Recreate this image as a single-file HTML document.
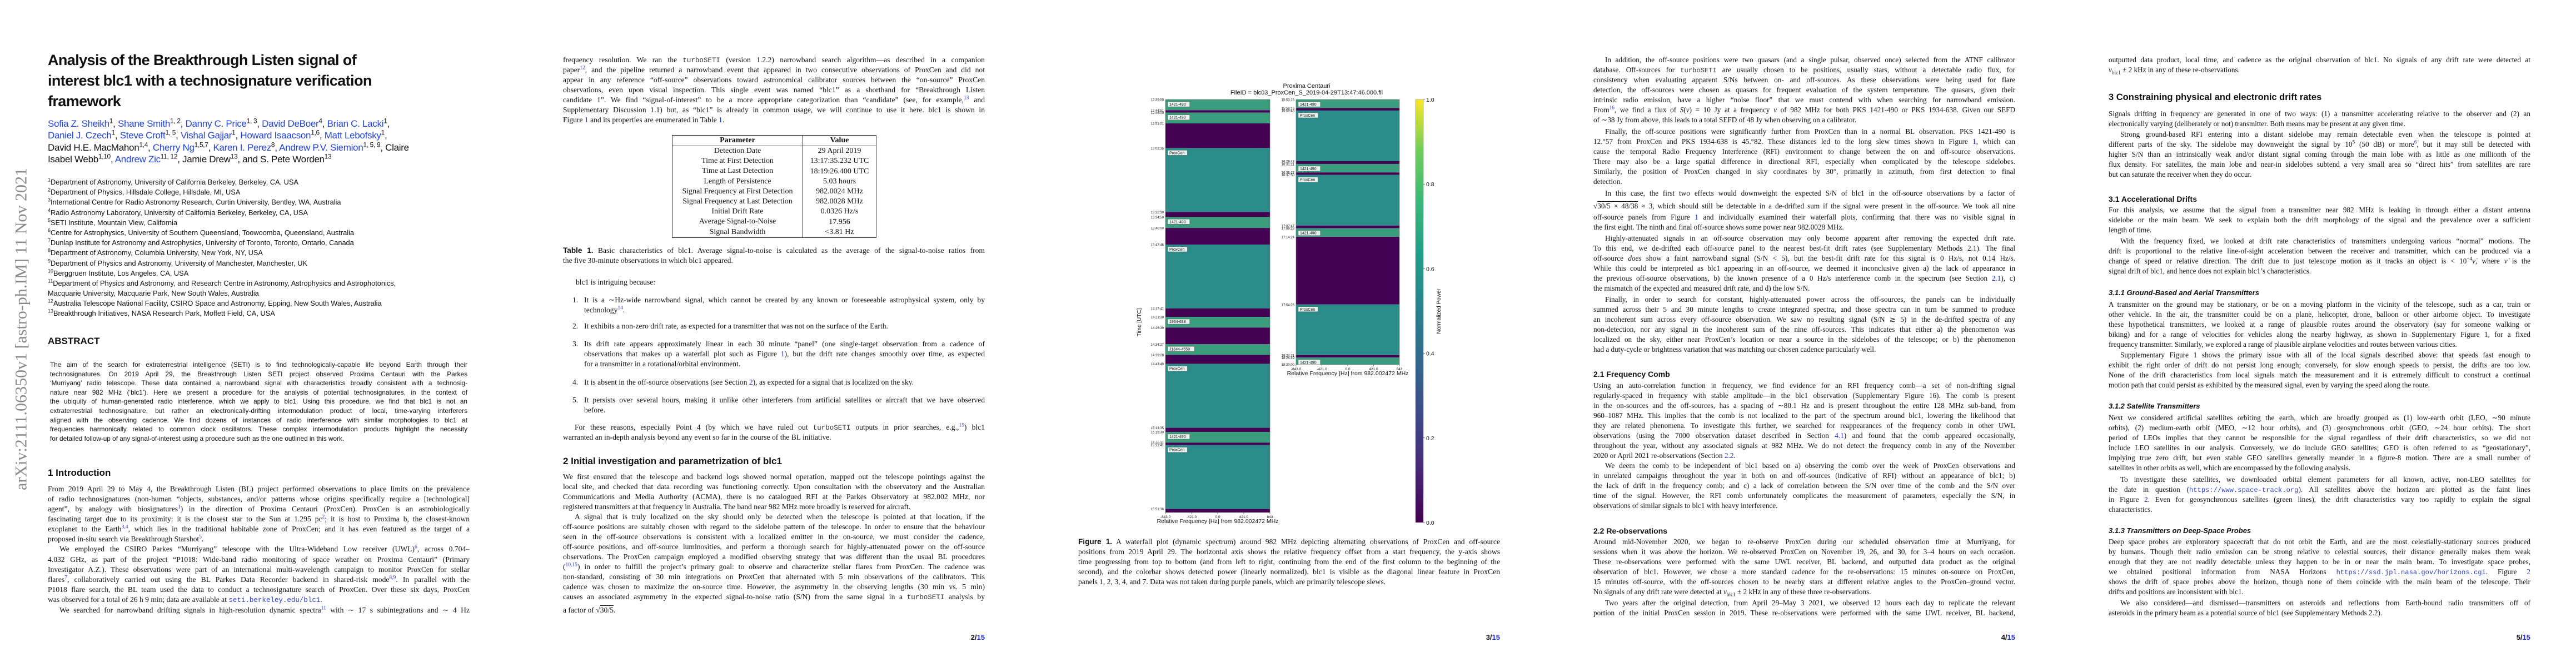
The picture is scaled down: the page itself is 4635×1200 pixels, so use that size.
<!DOCTYPE html>
<html><head><meta charset="utf-8">
<style>
html,body{margin:0;padding:0;background:#fff}
#root{position:relative;width:4635px;height:1200px;overflow:hidden;background:#fff;color:#111}
.p{position:absolute;width:759px}
.l{height:18px;line-height:18px;overflow:hidden;text-align:justify;text-align-last:justify;white-space:normal}
.z{text-align-last:left}
.i{text-indent:21px}
.s1{font-family:"Liberation Serif",serif;font-size:13.6px}
.s4{font-family:"Liberation Serif",serif;font-size:13.2px}
.sans{font-family:"Liberation Sans",sans-serif}
sup{font-size:70%;line-height:0;vertical-align:super}
.r{color:#1f2fe0}
.m{font-family:"Liberation Mono",monospace;color:#333;font-size:92%}
.u{font-family:"Liberation Mono",monospace;color:#2a3fd0;font-size:92%}
.h{position:absolute;font-family:"Liberation Sans",sans-serif;font-weight:bold;white-space:nowrap}
.pn{position:absolute;font-family:"Liberation Sans",sans-serif;font-weight:bold;font-size:13px;text-align:right;width:60px}
.ab{position:absolute;left:90px;width:751px;font-family:"Liberation Sans",sans-serif;font-size:11.8px}
.ab .l{height:16.6px;line-height:16.6px}
.af{position:absolute;left:86px;font-family:"Liberation Sans",sans-serif;font-size:12.8px;white-space:nowrap}
.af div{height:18.2px;line-height:18.2px}
.au{position:absolute;left:86px;font-family:"Liberation Sans",sans-serif;font-size:17px;white-space:nowrap;letter-spacing:-0.3px}
.au div{height:21.3px;line-height:21.3px}
.bl{color:#2244dd}
table{border-collapse:collapse}
</style></head><body>
<div id="root">

<!-- PAGE 1 -->
<div style="position:absolute;left:-264px;top:574px;width:605px;height:36px;line-height:36px;transform:rotate(-90deg);font-family:'Liberation Serif',serif;font-size:30px;color:#8a8a8a;white-space:nowrap;text-align:center">arXiv:2111.06350v1  [astro-ph.IM]  11 Nov 2021</div>

<div class="h" style="left:86px;top:90px;font-size:27px;line-height:37px;letter-spacing:-0.6px">Analysis of the Breakthrough Listen signal of<br>interest blc1 with a technosignature verification<br>framework</div>

<div class="au" style="top:212px">
<div><span class="bl">Sofia Z. Sheikh</span><sup>1</sup>, <span class="bl">Shane Smith</span><sup>1, 2</sup>, <span class="bl">Danny C. Price</span><sup>1, 3</sup>, <span class="bl">David DeBoer</span><sup>4</sup>, <span class="bl">Brian C. Lacki</span><sup>1</sup>,</div>
<div><span class="bl">Daniel J. Czech</span><sup>1</sup>, <span class="bl">Steve Croft</span><sup>1, 5</sup>, <span class="bl">Vishal Gajjar</span><sup>1</sup>, <span class="bl">Howard Isaacson</span><sup>1,6</sup>, <span class="bl">Matt Lebofsky</span><sup>1</sup>,</div>
<div>David H.E. MacMahon<sup>1,4</sup>, <span class="bl">Cherry Ng</span><sup>1,5,7</sup>, <span class="bl">Karen I. Perez</span><sup>8</sup>, <span class="bl">Andrew P.V. Siemion</span><sup>1, 5, 9</sup>, Claire</div>
<div>Isabel Webb<sup>1,10</sup>, <span class="bl">Andrew Zic</span><sup>11, 12</sup>, Jamie Drew<sup>13</sup>, and S. Pete Worden<sup>13</sup></div>
</div>

<div class="af" style="top:319px">
<div><sup>1</sup>Department of Astronomy, University of California Berkeley, Berkeley, CA, USA</div>
<div><sup>2</sup>Department of Physics, Hillsdale College, Hillsdale, MI, USA</div>
<div><sup>3</sup>International Centre for Radio Astronomy Research, Curtin University, Bentley, WA, Australia</div>
<div><sup>4</sup>Radio Astronomy Laboratory, University of California Berkeley, Berkeley, CA, USA</div>
<div><sup>5</sup>SETI Institute, Mountain View, California</div>
<div><sup>6</sup>Centre for Astrophysics, University of Southern Queensland, Toowoomba, Queensland, Australia</div>
<div><sup>7</sup>Dunlap Institute for Astronomy and Astrophysics, University of Toronto, Toronto, Ontario, Canada</div>
<div><sup>8</sup>Department of Astronomy, Columbia University, New York, NY, USA</div>
<div><sup>9</sup>Department of Physics and Astronomy, University of Manchester, Manchester, UK</div>
<div><sup>10</sup>Berggruen Institute, Los Angeles, CA, USA</div>
<div><sup>11</sup>Department of Physics and Astronomy, and Research Centre in Astronomy, Astrophysics and Astrophotonics,</div>
<div>Macquarie University, Macquarie Park, New South Wales, Australia</div>
<div><sup>12</sup>Australia Telescope National Facility, CSIRO Space and Astronomy, Epping, New South Wales, Australia</div>
<div><sup>13</sup>Breakthrough Initiatives, NASA Research Park, Moffett Field, CA, USA</div>
</div>

<div class="h" style="left:86px;top:603px;font-size:17px;line-height:22px">ABSTRACT</div>
<div class="ab" style="top:648px">
<div class="l">The aim of the search for extraterrestrial intelligence (SETI) is to find technologically-capable life beyond Earth through their</div>
<div class="l">technosignatures. On 2019 April 29, the Breakthrough Listen SETI project observed Proxima Centauri with the Parkes</div>
<div class="l">‘Murriyang’ radio telescope. These data contained a narrowband signal with characteristics broadly consistent with a technosig-</div>
<div class="l">nature near 982 MHz (‘blc1’). Here we present a procedure for the analysis of potential technosignatures, in the context of</div>
<div class="l">the ubiquity of human-generated radio interference, which we apply to blc1. Using this procedure, we find that blc1 is not an</div>
<div class="l">extraterrestrial technosignature, but rather an electronically-drifting intermodulation product of local, time-varying interferers</div>
<div class="l">aligned with the observing cadence. We find dozens of instances of radio interference with similar morphologies to blc1 at</div>
<div class="l">frequencies harmonically related to common clock oscillators. These complex intermodulation products highlight the necessity</div>
<div class="l z">for detailed follow-up of any signal-of-interest using a procedure such as the one outlined in this work.</div>
</div>

<div class="h" style="left:86px;top:840px;font-size:17px;line-height:22px">1  Introduction</div>
<div class="p s1" style="left:86px;top:871px;width:759px">
<div class="l">From 2019 April 29 to May 4, the Breakthrough Listen (BL) project performed observations to place limits on the prevalence</div>
<div class="l">of radio technosignatures (non-human “objects, substances, and/or patterns whose origins specifically require a [technological]</div>
<div class="l">agent”, by analogy with biosignatures<sup class="r">1</sup>) in the direction of Proxima Centauri (ProxCen). ProxCen is an astrobiologically</div>
<div class="l">fascinating target due to its proximity: it is the closest star to the Sun at 1.295 pc<sup class="r">2</sup>; it is host to Proxima b, the closest-known</div>
<div class="l">exoplanet to the Earth<sup class="r">3,4</sup>, which lies in the traditional habitable zone of ProxCen; and it has even featured as the target of a</div>
<div class="l z">proposed in-situ search via Breakthrough Starshot<sup class="r">5</sup>.</div>
<div class="l i" style="height:19px">We employed the CSIRO Parkes “Murriyang” telescope with the Ultra-Wideband Low receiver (UWL)<sup class="r">6</sup>, across 0.704–</div>
<div class="l">4.032 GHz, as part of the project “P1018: Wide-band radio monitoring of space weather on Proxima Centauri” (Primary</div>
<div class="l">Investigator A.Z.). These observations were part of an international multi-wavelength campaign to monitor ProxCen for stellar</div>
<div class="l">flares<sup class="r">7</sup>, collaboratively carried out using the BL Parkes Data Recorder backend in shared-risk mode<sup class="r">8,9</sup>. In parallel with the</div>
<div class="l">P1018 flare search, the BL team used the data to conduct a technosignature search of ProxCen. Over these six days, ProxCen</div>
<div class="l z">was observed for a total of 26 h 9 min; data are available at <span class="u">seti.berkeley.edu/blc1</span>.</div>
<div class="l i" style="height:20px;line-height:20px">We searched for narrowband drifting signals in high-resolution dynamic spectra<sup class="r">11</sup> with ∼ 17 s subintegrations and ∼ 4 Hz</div>
</div>

<!-- PAGE 2 -->
<div class="p s1" style="left:1013px;top:99px">
<div class="l">frequency resolution. We ran the <span class="m">turboSETI</span> (version 1.2.2) narrowband search algorithm—as described in a companion</div>
<div class="l">paper<sup class="r">12</sup>, and the pipeline returned a narrowband event that appeared in two consecutive observations of ProxCen and did not</div>
<div class="l">appear in any reference “off-source” observations toward astronomical calibrator sources between the “on-source” ProxCen</div>
<div class="l">observations, even upon visual inspection. This single event was named “blc1” as a shorthand for “Breakthrough Listen</div>
<div class="l">candidate 1”. We find “signal-of-interest” to be a more appropriate categorization than “candidate” (see, for example,<sup class="r">13</sup> and</div>
<div class="l">Supplementary Discussion 1.1) but, as “blc1” is already in common usage, we will continue to use it here. blc1 is shown in</div>
<div class="l z">Figure <span class="r">1</span> and its properties are enumerated in Table <span class="r">1</span>.</div>
</div>

<table style="position:absolute;left:1209px;top:243px;width:368px;border:1.5px solid #333;font-family:'Liberation Serif',serif;font-size:14px">
<tr style="height:19px;border-bottom:1.5px solid #333"><th style="width:234px;border-right:1.5px solid #333;padding:0;line-height:18px">Parameter</th><th style="padding:0;line-height:18px">Value</th></tr>
<tr><td style="text-align:center;border-right:1.5px solid #333;padding:0;line-height:18.2px">Detection Date</td><td style="text-align:center;padding:0">29 April 2019</td></tr>
<tr><td style="text-align:center;border-right:1.5px solid #333;padding:0;line-height:18.2px">Time at First Detection</td><td style="text-align:center;padding:0">13:17:35.232 UTC</td></tr>
<tr><td style="text-align:center;border-right:1.5px solid #333;padding:0;line-height:18.2px">Time at Last Detection</td><td style="text-align:center;padding:0">18:19:26.400 UTC</td></tr>
<tr><td style="text-align:center;border-right:1.5px solid #333;padding:0;line-height:18.2px">Length of Persistence</td><td style="text-align:center;padding:0">5.03 hours</td></tr>
<tr><td style="text-align:center;border-right:1.5px solid #333;padding:0;line-height:18.2px">Signal Frequency at First Detection</td><td style="text-align:center;padding:0">982.0024 MHz</td></tr>
<tr><td style="text-align:center;border-right:1.5px solid #333;padding:0;line-height:18.2px">Signal Frequency at Last Detection</td><td style="text-align:center;padding:0">982.0028 MHz</td></tr>
<tr><td style="text-align:center;border-right:1.5px solid #333;padding:0;line-height:18.2px">Initial Drift Rate</td><td style="text-align:center;padding:0">0.0326 Hz/s</td></tr>
<tr><td style="text-align:center;border-right:1.5px solid #333;padding:0;line-height:18.2px">Average Signal-to-Noise</td><td style="text-align:center;padding:0">17.956</td></tr>
<tr><td style="text-align:center;border-right:1.5px solid #333;padding:0;line-height:18.2px">Signal Bandwidth</td><td style="text-align:center;padding:0">&lt;3.81 Hz</td></tr>
</table>

<div class="p s1" style="left:1013px;top:442px">
<div class="l"><b class="sans">Table 1.</b> Basic characteristics of blc1. Average signal-to-noise is calculated as the average of the signal-to-noise ratios from</div>
<div class="l z">the five 30-minute observations in which blc1 appeared.</div>
</div>
<div class="p s1" style="left:1036px;top:499px"><div class="l z">blc1 is intriguing because:</div></div>

<div class="p s1" style="left:1030px;top:0;width:20px">
<div class="l z" style="position:absolute;top:531px">1.</div>
<div class="l z" style="position:absolute;top:578px">2.</div>
<div class="l z" style="position:absolute;top:610px">3.</div>
<div class="l z" style="position:absolute;top:679px">4.</div>
<div class="l z" style="position:absolute;top:711px">5.</div>
</div>
<div class="p s1" style="left:1051px;top:531px;width:721px">
<div class="l">It is a ∼Hz-wide narrowband signal, which cannot be created by any known or foreseeable astrophysical system, only by</div>
<div class="l z">technology<sup class="r">14</sup>.</div></div>
<div class="p s1" style="left:1051px;top:578px;width:721px">
<div class="l z">It exhibits a non-zero drift rate, as expected for a transmitter that was not on the surface of the Earth.</div></div>
<div class="p s1" style="left:1051px;top:610px;width:721px">
<div class="l">Its drift rate appears approximately linear in each 30 minute “panel” (one single-target observation from a cadence of</div>
<div class="l">observations that makes up a waterfall plot such as Figure <span class="r">1</span>), but the drift rate changes smoothly over time, as expected</div>
<div class="l z">for a transmitter in a rotational/orbital environment.</div></div>
<div class="p s1" style="left:1051px;top:679px;width:721px">
<div class="l z">It is absent in the off-source observations (see Section <span class="r">2</span>), as expected for a signal that is localized on the sky.</div></div>
<div class="p s1" style="left:1051px;top:711px;width:721px">
<div class="l">It persists over several hours, making it unlike other interferers from artificial satellites or aircraft that we have observed</div>
<div class="l z">before.</div></div>
<div class="p s1" style="left:1013px;top:760px">
<div class="l i">For these reasons, especially Point 4 (by which we have ruled out <span class="m">turboSETI</span> outputs in prior searches, e.g.,<sup class="r">15</sup>) blc1</div>
<div class="l z">warranted an in-depth analysis beyond any event so far in the course of the BL initiative.</div></div>

<div class="h" style="left:1013px;top:819px;font-size:17px;line-height:22px">2  Initial investigation and parametrization of blc1</div>
<div class="p s1" style="left:1013px;top:849px">
<div class="l">We first ensured that the telescope and backend logs showed normal operation, mapped out the telescope pointings against the</div>
<div class="l">local site, and checked that data recording was functioning correctly. Upon consultation with the observatory and the Australian</div>
<div class="l">Communications and Media Authority (ACMA), there is no catalogued RFI at the Parkes Observatory at 982.002 MHz, nor</div>
<div class="l z">registered transmitters at that frequency in Australia. The band near 982 MHz more broadly is reserved for aircraft.</div>
<div class="l i">A signal that is truly localized on the sky should only be detected when the telescope is pointed at that location, if the</div>
<div class="l">off-source positions are suitably chosen with regard to the sidelobe pattern of the telescope. In order to ensure that the behaviour</div>
<div class="l">seen in the off-source observations is consistent with a localized emitter in the on-source, we must consider the cadence,</div>
<div class="l">off-source positions, and off-source luminosities, and perform a thorough search for highly-attenuated power on the off-source</div>
<div class="l">observations. The ProxCen campaign employed a modified observing strategy that was different than the usual BL procedures</div>
<div class="l">(<sup class="r">10,15</sup>) in order to fulfill the project’s primary goal: to observe and characterize stellar flares from ProxCen. The cadence was</div>
<div class="l">non-standard, consisting of 30 min integrations on ProxCen that alternated with 5 min observations of the calibrators. This</div>
<div class="l">cadence was chosen to maximize the on-source time. However, the asymmetry in the observing lengths (30 min vs. 5 min)</div>
<div class="l">causes an associated asymmetry in the expected signal-to-noise ratio (S/N) from the same signal in a <span class="m">turboSETI</span> analysis by</div>
<div class="l z" style="height:26px;line-height:30px">a factor of √<span style="text-decoration:overline">30/5</span>.</div>
</div>
<div class="pn" style="left:1712px;top:1139px">2/<span class="r">15</span></div>

<!-- PAGE 3 FIGURE -->
<svg id="fig" style="position:absolute;left:1854px;top:0" width="927" height="1200" viewBox="1854 0 927 1200">
<defs><linearGradient id="vir" x1="0" y1="1" x2="0" y2="0">
<stop offset="0" stop-color="#440154"/><stop offset="0.13" stop-color="#482878"/><stop offset="0.25" stop-color="#3e4989"/><stop offset="0.38" stop-color="#31688e"/><stop offset="0.5" stop-color="#26828e"/><stop offset="0.63" stop-color="#1f9e89"/><stop offset="0.75" stop-color="#35b779"/><stop offset="0.88" stop-color="#6ece58"/><stop offset="1" stop-color="#fde725"/></linearGradient></defs>
</svg>
<div class="p s1" style="left:1940px;top:966px">
<div class="l"><b class="sans">Figure 1.</b> A waterfall plot (dynamic spectrum) around 982 MHz depicting alternating observations of ProxCen and off-source</div>
<div class="l">positions from 2019 April 29. The horizontal axis shows the relative frequency offset from a start frequency, the y-axis shows</div>
<div class="l">time progressing from top to bottom (and from left to right, continuing from the end of the first column to the beginning of the</div>
<div class="l">second), and the colorbar shows detected power (linearly normalized). blc1 is visible as the diagonal linear feature in ProxCen</div>
<div class="l z">panels 1, 2, 3, 4, and 7. Data was not taken during purple panels, which are primarily telescope slews.</div>
</div>
<div class="pn" style="left:2639px;top:1139px">3/<span class="r">15</span></div>

<!-- PAGE 4 -->
<div class="p s4" style="left:2867px;top:99px">
<div class="l i">In addition, the off-source positions were two quasars (and a single pulsar, observed once) selected from the ATNF calibrator</div>
<div class="l">database. Off-sources for <span class="m">turboSETI</span> are usually chosen to be positions, usually stars, without a detectable radio flux, for</div>
<div class="l">consistency when evaluating apparent S/Ns between on- and off-sources. As these observations were being used for flare</div>
<div class="l">detection, the off-sources were chosen as quasars for frequent evaluation of the system temperature. The quasars, given their</div>
<div class="l">intrinsic radio emission, have a higher “noise floor” that we must contend with when searching for narrowband emission.</div>
<div class="l">From<sup class="r">16</sup>, we find a flux of <i>S</i>(<i>ν</i>) = 10 Jy at a frequency <i>ν</i> of 982 MHz for both PKS 1421-490 or PKS 1934-638. Given our SEFD</div>
<div class="l z">of ∼38 Jy from above, this leads to a total SEFD of 48 Jy when observing on a calibrator.</div>
<div class="l i" style="margin-top:3px">Finally, the off-source positions were significantly further from ProxCen than in a normal BL observation. PKS 1421-490 is</div>
<div class="l">12.°57 from ProxCen and PKS 1934-638 is 45.°82. These distances led to the long slew times shown in Figure <span class="r">1</span>, which can</div>
<div class="l">cause the temporal Radio Frequency Interference (RFI) environment to change between the on and off-source observations.</div>
<div class="l">There may also be a large spatial difference in directional RFI, especially when complicated by the telescope sidelobes.</div>
<div class="l">Similarly, the position of ProxCen changed in sky coordinates by  30°, primarily in azimuth, from first detection to final</div>
<div class="l z">detection.</div>
<div class="l i" style="margin-top:3px">In this case, the first two effects would downweight the expected S/N of blc1 in the off-source observations by a factor of</div>
<div class="l" style="height:25px;line-height:27px">√<span style="text-decoration:overline">30/5 × 48/38</span> ≈ 3, which should still be detectable in a de-drifted sum if the signal were present in the off-source. We took all nine</div>
<div class="l">off-source panels from Figure <span class="r">1</span> and individually examined their waterfall plots, confirming that there was no visible signal in</div>
<div class="l z">the first eight. The ninth and final off-source shows some power near 982.0028 MHz.</div>
<div class="l i" style="margin-top:2px">Highly-attenuated signals in an off-source observation may only become apparent after removing the expected drift rate.</div>
<div class="l">To this end, we de-drifted each off-source panel to the nearest best-fit drift rates (see Supplementary Methods 2.1). The final</div>
<div class="l">off-source <i>does</i> show a faint narrowband signal (S/N &lt; 5), but the best-fit drift rate for this signal is 0 Hz/s, not 0.14 Hz/s.</div>
<div class="l">While this could be interpreted as blc1 appearing in an off-source, we deemed it inconclusive given a) the lack of appearance in</div>
<div class="l">the previous off-source observations, b) the known presence of a 0 Hz/s interference comb in the spectrum (see Section <span class="r">2.1</span>), c)</div>
<div class="l z">the mismatch of the expected and measured drift rate, and d) the low S/N.</div>
<div class="l i" style="margin-top:2px">Finally, in order to search for constant, highly-attenuated power across the off-sources, the panels can be individually</div>
<div class="l">summed across their 5 and 30 minute lengths to create integrated spectra, and those spectra can in turn be summed to produce</div>
<div class="l">an incoherent sum across every off-source observation. We saw no resulting signal (S/N ≳ 5) in the de-drifted spectra of any</div>
<div class="l">non-detection, nor any signal in the incoherent sum of the nine off-sources. This indicates that either a) the phenomenon was</div>
<div class="l">localized on the sky, either near ProxCen’s location or near a source in the sidelobes of the telescope; or b) the phenomenon</div>
<div class="l z">had a duty-cycle or brightness variation that was matching our chosen cadence particularly well.</div>
</div>
<div class="h" style="left:2867px;top:664px;font-size:14px;line-height:18px">2.1  Frequency Comb</div>
<div class="p s4" style="left:2867px;top:685px">
<div class="l">Using an auto-correlation function in frequency, we find evidence for an RFI frequency comb—a set of non-drifting signal</div>
<div class="l">regularly-spaced in frequency with stable amplitude—in the blc1 observation (Supplementary Figure 16). The comb is present</div>
<div class="l">in the on-sources and the off-sources, has a spacing of ∼80.1 Hz and is present throughout the entire 128 MHz sub-band, from</div>
<div class="l">960–1087 MHz. This implies that the comb is not localized to the part of the spectrum around blc1, lowering the likelihood that</div>
<div class="l">they are related phenomena. To investigate this further, we searched for reappearances of the frequency comb in other UWL</div>
<div class="l">observations (using the 7000 observation dataset described in Section <span class="r">4.1</span>) and found that the comb appeared occasionally,</div>
<div class="l">throughout the year, without any associated signals at 982 MHz. We do not detect the frequency comb in any of the November</div>
<div class="l z">2020 or April 2021 re-observations (Section <span class="r">2.2</span>.</div>
<div class="l i">We deem the comb to be independent of blc1 based on a) observing the comb over the week of ProxCen observations and</div>
<div class="l">in unrelated campaigns throughout the year in both on and off-sources (indicative of RFI) without an appearance of blc1; b)</div>
<div class="l">the lack of drift in the frequency comb; and c) a lack of correlation between the S/N over time of the comb and the S/N over</div>
<div class="l">time of the signal. However, the RFI comb unfortunately complicates the measurement of parameters, especially the S/N, in</div>
<div class="l z">observations of similar signals to blc1 with heavy interference.</div>
</div>
<div class="h" style="left:2867px;top:946px;font-size:14px;line-height:18px">2.2  Re-observations</div>
<div class="p s4" style="left:2867px;top:966px">
<div class="l">Around mid-November 2020, we began to re-observe ProxCen during our scheduled observation time at Murriyang, for</div>
<div class="l">sessions when it was above the horizon. We re-observed ProxCen on November 19, 26, and 30, for 3–4 hours on each occasion.</div>
<div class="l">These re-observations were performed with the same UWL receiver, BL backend, and outputted data product as the original</div>
<div class="l">observation of blc1. However, we chose a more standard cadence for the re-observations: 15 minutes on-source on ProxCen,</div>
<div class="l">15 minutes off-source, with the off-sources chosen to be nearby stars at different relative angles to the ProxCen–ground vector.</div>
<div class="l z">No signals of any drift rate were detected at <i>ν</i><sub style="font-size:70%">blc1</sub> ± 2 kHz in any of these three re-observations.</div>
<div class="l i" style="margin-top:2px">Two years after the original detection, from April 29–May 3 2021, we observed 12 hours each day to replicate the relevant</div>
<div class="l">portion of the initial ProxCen session in 2019. These re-observations were performed with the same UWL receiver, BL backend,</div>
</div>
<div class="pn" style="left:3566px;top:1139px">4/<span class="r">15</span></div>

<!-- PAGE 5 -->
<div class="p s4" style="left:3794px;top:99px">
<div class="l">outputted data product, local time, and cadence as the original observation of blc1. No signals of any drift rate were detected at</div>
<div class="l z"><i>ν</i><sub style="font-size:70%">blc1</sub> ± 2 kHz in any of these re-observations.</div>
</div>
<div class="h" style="left:3794px;top:164px;font-size:16.5px;line-height:22px">3  Constraining physical and electronic drift rates</div>
<div class="p s4" style="left:3794px;top:196px">
<div class="l">Signals drifting in frequency are generated in one of two ways: (1) a transmitter accelerating relative to the observer and (2) an</div>
<div class="l z">electronically varying (deliberately or not) transmitter. Both means may be present at any given time.</div>
<div class="l i" style="margin-top:1px">Strong ground-based RFI entering into a distant sidelobe may remain detectable even when the telescope is pointed at</div>
<div class="l">different parts of the sky. The sidelobe may downweight the signal by 10<sup>5</sup> (50 dB) or more<sup class="r">6</sup>, but it may still be detected with</div>
<div class="l">higher S/N than an intrinsically weak and/or distant signal coming through the main lobe with as little as one millionth of the</div>
<div class="l">flux density. For satellites, the main lobe and near-in sidelobes subtend a very small area so “direct hits” from satellites are rare</div>
<div class="l z">but can saturate the receiver when they do occur.</div>
</div>
<div class="h" style="left:3794px;top:349px;font-size:14px;line-height:18px">3.1  Accelerational Drifts</div>
<div class="p s4" style="left:3794px;top:369px">
<div class="l">For this analysis, we assume that the signal from a transmitter near 982 MHz is leaking in through either a distant antenna</div>
<div class="l">sidelobe or the main beam. We seek to explain both the drift morphology of the signal and the prevalence over a sufficient</div>
<div class="l z">length of time.</div>
<div class="l i" style="margin-top:2px">With the frequency fixed, we looked at drift rate characteristics of transmitters undergoing various “normal” motions. The</div>
<div class="l">drift is proportional to the relative line-of-sight acceleration between the receiver and transmitter, which can be produced via a</div>
<div class="l">change of speed or relative direction. The drift due to just telescope motion as it tracks an object is &lt; 10<sup>−4</sup><i>ν̇</i>, where <i>ν̇</i> is the</div>
<div class="l z">signal drift of blc1, and hence does not explain blc1’s characteristics.</div>
</div>
<div class="h" style="left:3794px;top:518px;font-size:13px;line-height:18px;font-style:italic">3.1.1  Ground-Based and Aerial Transmitters</div>
<div class="p s4" style="left:3794px;top:539px">
<div class="l">A transmitter on the ground may be stationary, or be on a moving platform in the vicinity of the telescope, such as a car, train or</div>
<div class="l">other vehicle. In the air, the transmitter could be on a plane, helicopter, drone, balloon or other airborne object. To investigate</div>
<div class="l">these hypothetical transmitters, we looked at a range of plausible routes around the observatory (say for someone walking or</div>
<div class="l">biking) and for a range of velocities for vehicles along the nearby highway, as shown in Supplementary Figure 1, for a fixed</div>
<div class="l z">frequency transmitter. Similarly, we explored a range of plausible airplane velocities and routes between various cities.</div>
<div class="l i" style="margin-top:1px">Supplementary Figure 1 shows the primary issue with all of the local signals described above: that speeds fast enough to</div>
<div class="l">exhibit the right order of drift do not persist long enough; conversely, for slow enough speeds to persist, the drifts are too low.</div>
<div class="l">None of the drift characteristics from local signals match the measurement and it is extremely difficult to construct a continual</div>
<div class="l z">motion path that could persist as exhibited by the measured signal, even by varying the speed along the route.</div>
</div>
<div class="h" style="left:3794px;top:722px;font-size:13px;line-height:18px;font-style:italic">3.1.2  Satellite Transmitters</div>
<div class="p s4" style="left:3794px;top:743px">
<div class="l">Next we considered artificial satellites orbiting the earth, which are broadly grouped as (1) low-earth orbit (LEO, ∼90 minute</div>
<div class="l">orbits), (2) medium-earth orbit (MEO, ∼12 hour orbits), and (3) geosynchronous orbit (GEO, ∼24 hour orbits). The short</div>
<div class="l">period of LEOs implies that they cannot be responsible for the signal regardless of their drift characteristics, so we did not</div>
<div class="l">include LEO satellites in our analysis. Conversely, we do include GEO satellites; GEO is often referred to as “geostationary”,</div>
<div class="l">implying true zero drift, but even stable GEO satellites generally meander in a figure-8 motion. There are a small number of</div>
<div class="l z">satellites in other orbits as well, which are encompassed by the following analysis.</div>
<div class="l i" style="margin-top:3px">To investigate these satellites, we downloaded orbital element parameters for all known, active, non-LEO satellites for</div>
<div class="l">the date in question (<span class="u">https://www.space-track.org</span>). All satellites above the horizon are plotted as the faint lines</div>
<div class="l">in Figure <span class="r">2</span>. Even for geosynchronous satellites (green lines), the drift characteristics vary too rapidly to explain the signal</div>
<div class="l z">characteristics.</div>
</div>
<div class="h" style="left:3794px;top:946px;font-size:13px;line-height:18px;font-style:italic">3.1.3  Transmitters on Deep-Space Probes</div>
<div class="p s4" style="left:3794px;top:966px">
<div class="l">Deep space probes are exploratory spacecraft that do not orbit the Earth, and are the most celestially-stationary sources produced</div>
<div class="l">by humans. Though their radio emission can be strong relative to celestial sources, their distance generally makes them weak</div>
<div class="l">enough that they are not readily detectable unless they happen to be in or near the main beam. To investigate space probes,</div>
<div class="l">we obtained positional information from NASA Horizons <span class="u">https://ssd.jpl.nasa.gov/horizons.cgi</span>. Figure <span class="r">2</span></div>
<div class="l">shows the drift of space probes above the horizon, though none of them coincide with the main beam of the telescope. Their</div>
<div class="l z">drifts and positions are inconsistent with blc1.</div>
<div class="l i" style="margin-top:2px">We also considered—and dismissed—transmitters on asteroids and reflections from Earth-bound radio transmitters off of</div>
<div class="l z">asteroids in the primary beam as a potential source of blc1 (see Supplementary Methods 2.2).</div>
</div>
<div class="pn" style="left:4493px;top:1139px">5/<span class="r">15</span></div>
</div>

<script>
const leftSegments = [
 ["1421-490","12:39:50","12:44:51"],["slew","12:44:51","12:46:00"],["1421-490","12:46:00","12:51:01"],["slew","12:51:01","13:02:35"],
 ["ProxCen","13:02:35","13:32:30"],["slew","13:32:30","13:34:50"],["1421-490","13:34:50","13:40:00"],["slew","13:40:00","13:47:46"],
 ["ProxCen","13:47:46","14:17:41"],["slew","14:17:41","14:21:38"],["1934-638","14:21:38","14:26:39"],["slew","14:26:39","14:34:27"],
 ["J1644-4559","14:34:27","14:39:28"],["slew","14:39:28","14:43:40"],["ProxCen","14:43:40","15:13:35"],["slew","15:13:35","15:15:30"],
 ["1421-490","15:15:30","15:20:31"],["slew","15:20:31","15:21:41"],["ProxCen","15:21:41","15:51:36"],["slew","15:51:36","15:53:15"]];
const rightSegments = [
 ["1421-490","15:53:15","15:58:16"],["slew","15:58:16","15:59:48"],["ProxCen","15:59:48","16:29:43"],["slew","16:29:43","16:31:21"],
 ["1421-490","16:31:21","16:36:22"],["slew","16:36:22","16:37:50"],["ProxCen","16:37:50","17:07:47"],["slew","17:07:47","17:09:23"],
 ["1421-490","17:09:23","17:14:24"],["slew","17:14:24","17:54:26"],["ProxCen","17:54:26","18:24:21"],["slew","18:24:21","18:25:49"],
 ["1421-490","18:25:49","18:30:00"]];
const freqTicks = [-843.0, -421.0, 0.0, 421.0, 843];
const freqTickLabels = ["-843.0", "-421.0", "0.0", "421.0", "843"];
const colorbarTicks = [0.0, 0.2, 0.4, 0.6, 0.8, 1.0];
const colorbarTickLabels = ["0.0", "0.2", "0.4", "0.6", "0.8", "1.0"];

const NS = "http://www.w3.org/2000/svg";
const svg = document.getElementById("fig");
function sec(t){const p=t.split(":").map(Number);return p[0]*3600+p[1]*60+p[2];}
function mk(tag, attrs){const e=document.createElementNS(NS,tag);for(const k in attrs)e.setAttribute(k,attrs[k]);svg.appendChild(e);return e;}
function txt(x,y,s,size,anchor,extra){const e=mk("text",Object.assign({x:x,y:y,"font-size":size,"text-anchor":anchor||"start","font-family":"Liberation Sans, sans-serif",fill:"#111"},extra||{}));e.textContent=s;return e;}

const cols = [
 {segs:leftSegments, x0:2097, x1:2285, top:179, bottom:922, endLabel:false},
 {segs:rightSegments, x0:2332, x1:2518, top:179, bottom:656, endLabel:true}];

cols.forEach(function(c, ci){
  const t0 = sec(c.segs[0][1]), t1 = sec(c.segs[c.segs.length-1][2]);
  const yScale = function(t){return c.top + (sec(t)-t0)/(t1-t0)*(c.bottom-c.top);};
  const xScale = function(f){return c.x0 + (f - freqTicks[0])/(freqTicks[freqTicks.length-1]-freqTicks[0])*(c.x1-c.x0);};
  c.segs.forEach(function(s){
    const y0=yScale(s[1]), y1=yScale(s[2]);
    const fill = s[0]==="slew" ? "#440154" : (s[0]==="ProxCen" ? "#2a8b89" : "#3a9b7d");
    const r = mk("rect",{x:c.x0,y:y0,width:c.x1-c.x0,height:Math.max(0.5,y1-y0),fill:fill});
    
    
    if(s[0]!=="slew"){
      const lw = s[0].length*4.2+6;
      const b = mk("rect",{x:c.x0+4,y:y0+4,width:lw,height:9,fill:"#e8f2ee",stroke:"#555","stroke-width":0.4});
      
      
      const tl = txt(c.x0+7, y0+11, s[0], 7, "start");
      
      
    }
    const yl = txt(c.x0-3, y0+2.5, s[1], 6, "end");
    
    
  });
  if(c.endLabel){
    const el = txt(c.x0-3, c.bottom+2, c.segs[c.segs.length-1][2], 6, "end");
    
    
  }
  const fr = mk("rect",{x:c.x0,y:c.top,width:c.x1-c.x0,height:c.bottom-c.top,fill:"none",stroke:"#666","stroke-width":0.6});
  
  
  freqTicks.forEach(function(f,i){
    const tk = mk("line",{x1:xScale(f),x2:xScale(f),y1:c.bottom,y2:c.bottom+3,stroke:"#333","stroke-width":0.6});
    
    
    const tl = txt(xScale(f), c.bottom+10, freqTickLabels[i], 6.5, "middle");
    
    
  });
  const xl = txt((c.x0+c.x1)/2, c.bottom+19, "Relative Frequency [Hz] from 982.002472 MHz", 10.5, "middle");
  
  
});

const yt = txt(0,0,"Time [UTC]",10,"middle",{transform:"translate(2053,580) rotate(-90)"});


const t1 = txt(2351,158,"Proxima Centauri",11,"middle");


const t2 = txt(2351,170,"FileID = blc03_ProxCen_S_2019-04-29T13:47:46.000.fil",11,"middle");



const cbTop=179, cbBottom=940, cbX=2547, cbW=14;
const cbScale = function(v){return cbBottom - (v-colorbarTicks[0])/(colorbarTicks[colorbarTicks.length-1]-colorbarTicks[0])*(cbBottom-cbTop);};
const cb = mk("rect",{x:cbX,y:cbTop,width:cbW,height:cbBottom-cbTop,fill:"url(#vir)",stroke:"#777","stroke-width":0.5});


colorbarTicks.forEach(function(v,i){
  const tk = mk("line",{x1:cbX+cbW,x2:cbX+cbW+3,y1:cbScale(v),y2:cbScale(v),stroke:"#333","stroke-width":0.6});
  
  
  const tl = txt(cbX+cbW+5, cbScale(v)+4, colorbarTickLabels[i], 10.5, "start");
  
  
});
const cbl = txt(0,0,"Normalized Power",10,"middle",{transform:"translate(2592,560) rotate(-90)"});


</script>
</body></html>
